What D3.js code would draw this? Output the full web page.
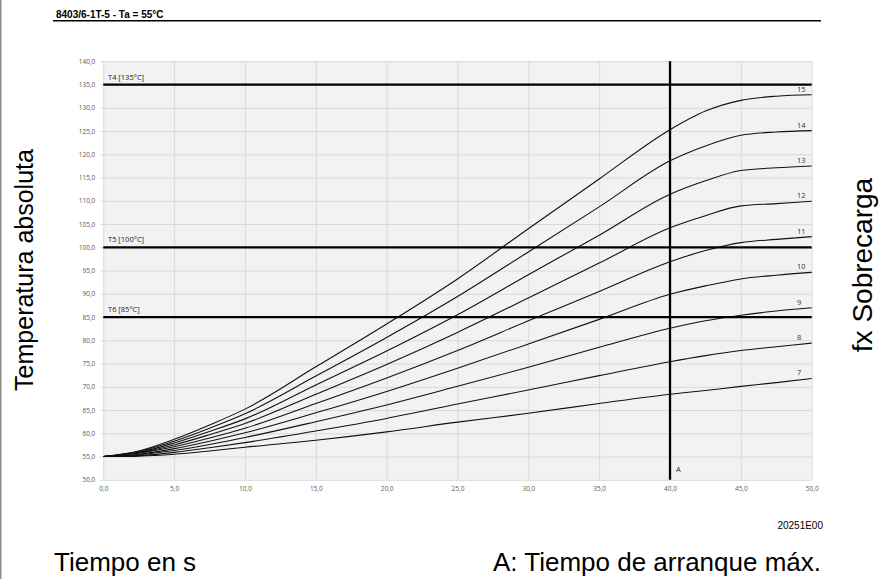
<!DOCTYPE html>
<html>
<head>
<meta charset="utf-8">
<script src="https://cdn.jsdelivr.net/npm/d3@7"></script>
<style>
  body { margin: 0; background: #fff; }
  svg { display: block; font-family: "Liberation Sans", Arial, sans-serif; }
</style>
</head>
<body>
<div id="chart"></div>
<script>
// time axis (s) at which the curves were read
const times = [0, 2.5, 5, 7.5, 10, 15, 20, 25, 30, 35, 40, 42.5, 45, 47.5, 50];

// absolute temperature per overload factor
const curve7  = [55, 55.1, 55.5, 56.2, 57.0, 58.5, 60.3, 62.4, 64.3, 66.4, 68.4, 69.2, 70.1, 70.9, 71.8];
const curve8  = [55, 55.2, 55.9, 56.9, 58.0, 60.5, 63.2, 66.3, 69.3, 72.4, 75.4, 76.7, 77.8, 78.6, 79.4];
const curve9  = [55, 55.4, 56.3, 57.6, 59.1, 62.5, 66.1, 70.1, 74.2, 78.5, 82.6, 84.2, 85.4, 86.3, 87.0];
const curve10 = [55, 55.5, 56.7, 58.3, 60.1, 64.4, 69.0, 74.0, 79.2, 84.5, 89.9, 91.7, 93.2, 94.0, 94.6];
const curve11 = [55, 55.7, 57.1, 59.0, 61.1, 66.4, 71.9, 77.8, 84.2, 90.5, 96.9, 99.3, 101.0, 101.7, 102.3];
const curve12 = [55, 55.8, 57.5, 59.7, 62.1, 68.4, 74.8, 81.7, 89.1, 96.6, 104.2, 106.8, 108.9, 109.4, 109.9];
const curve13 = [55, 55.9, 57.9, 60.4, 63.1, 70.4, 77.7, 85.5, 94.1, 102.6, 111.4, 114.3, 116.5, 117.1, 117.5];
const curve14 = [55, 56.1, 58.3, 61.1, 64.2, 72.3, 80.6, 89.4, 99.0, 108.7, 118.6, 121.8, 124.1, 124.8, 125.1];
const curve15 = [55, 56.2, 58.7, 61.8, 65.2, 74.3, 83.5, 93.2, 104.0, 114.7, 125.3, 129.3, 131.6, 132.5, 132.8];

const curveLabels = ["7", "8", "9", "10", "11", "12", "13", "14", "15"];
const curveValues = [curve7, curve8, curve9, curve10, curve11, curve12, curve13, curve14, curve15];

// temperature class limits
const limitValues = [135, 100, 85];
const limitLabels = ["T4 [135°C]", "T5 [100°C]", "T6 [85°C]"];

// max start-up time marker
const markerTime = 40;
const markerLabel = "A";

const xTicks = [0, 5, 10, 15, 20, 25, 30, 35, 40, 45, 50];
const yTicks = [50, 55, 60, 65, 70, 75, 80, 85, 90, 95, 100, 105, 110, 115, 120, 125, 130, 135, 140];

const width = 893, height = 579;
const plot = { left: 103.3, top: 61.3, right: 811.7, bottom: 479.8 };

const svg = d3.select("#chart").append("svg")
  .attr("width", width)
  .attr("height", height);

// thin page border on the left
svg.append("line")
  .attr("x1", 0.75).attr("x2", 0.75)
  .attr("y1", 0).attr("y2", height)
  .attr("stroke", "#8c8c8c")
  .attr("stroke-width", 1.5);

// title with rule
svg.append("text")
  .attr("x", 56)
  .attr("y", 18.3)
  .attr("font-size", "10px")
  .attr("font-weight", "bold")
  .attr("fill", "#000")
  .text("8403/6-1T-5 - Ta = 55°C");

svg.append("line")
  .attr("x1", 53).attr("x2", 821)
  .attr("y1", 20.7).attr("y2", 20.7)
  .attr("stroke", "#000")
  .attr("stroke-width", 1.4);

let x = d3.scaleLinear().domain([0, 50]).range([plot.left, plot.right]);
let y = d3.scaleLinear().domain([50, 140]).range([plot.bottom, plot.top]);

const fmt = d => d3.format(".1f")(d).replace(".", ",");

svg.append("rect")
  .attr("x", plot.left)
  .attr("y", plot.top)
  .attr("width", plot.right - plot.left)
  .attr("height", plot.bottom - plot.top)
  .attr("fill", "#f2f2f2");

// grid + tick labels
let yAxis = svg.append("g")
  .attr("transform", `translate(${plot.left},0)`)
  .call(d3.axisLeft(y).tickValues(yTicks).tickFormat(fmt)
    .tickSize(-(plot.right - plot.left)).tickPadding(8));

let xAxis = svg.append("g")
  .attr("transform", `translate(0,${plot.bottom})`)
  .call(d3.axisBottom(x).tickValues(xTicks).tickFormat(fmt)
    .tickSize(-(plot.bottom - plot.top)).tickPadding(7));

[yAxis, xAxis].forEach(function (g) {
  g.select(".domain").remove();
  g.selectAll(".tick line")
    .attr("stroke", "#d9d9d9")
    .attr("stroke-width", 1);
  g.selectAll(".tick text")
    .attr("fill", "#595959")
    .attr("font-family", "'Open Sans', sans-serif")
    .attr("font-size", "6.5px");
});

// small outer ticks on the y axis
yAxis.selectAll(".tick").append("line")
  .attr("x1", -3).attr("x2", 0)
  .attr("stroke", "#d9d9d9");

// curves
let line = d3.line()
  .x((d, i) => x(times[i]))
  .y(d => y(d))
  .curve(d3.curveMonotoneX);

svg.append("g")
  .selectAll("path")
  .data(curveValues)
  .enter().append("path")
  .attr("d", d => line(d))
  .attr("fill", "none")
  .attr("stroke", "#111")
  .attr("stroke-width", 1.1);

svg.append("g")
  .selectAll("text")
  .data(curveValues)
  .enter().append("text")
  .attr("x", 797)
  .attr("y", d => y(d[d.length - 1]) - 3)
  .attr("font-family", "'Open Sans', sans-serif")
  .attr("font-size", "7.5px")
  .attr("fill", "#333")
  .text((d, i) => curveLabels[i]);

// temperature limits
svg.append("g")
  .selectAll("line")
  .data(limitValues)
  .enter().append("line")
  .attr("x1", plot.left).attr("x2", plot.right)
  .attr("y1", d => y(d)).attr("y2", d => y(d))
  .attr("stroke", "#000")
  .attr("stroke-width", 2.3);

svg.append("g")
  .selectAll("text")
  .data(limitValues)
  .enter().append("text")
  .attr("x", 108)
  .attr("y", d => y(d) - 5)
  .attr("font-family", "'Open Sans', sans-serif")
  .attr("font-size", "7.5px")
  .attr("fill", "#222")
  .text((d, i) => limitLabels[i]);

// start-up time marker
svg.append("line")
  .attr("x1", x(markerTime)).attr("x2", x(markerTime))
  .attr("y1", plot.top).attr("y2", plot.bottom)
  .attr("stroke", "#000")
  .attr("stroke-width", 2.3);

svg.append("text")
  .attr("x", x(markerTime) + 6)
  .attr("y", plot.bottom - 8)
  .attr("font-family", "'Open Sans', sans-serif")
  .attr("font-size", "7.5px")
  .attr("fill", "#222")
  .text(markerLabel);

// outer labels
svg.append("text")
  .attr("transform", "translate(33,270) rotate(-90)")
  .attr("text-anchor", "middle")
  .attr("font-size", "25px")
  .attr("fill", "#000")
  .text("Temperatura absoluta");

svg.append("text")
  .attr("transform", "translate(872,265) rotate(-90)")
  .attr("text-anchor", "middle")
  .attr("font-size", "28px")
  .attr("fill", "#000")
  .text("fx Sobrecarga");

svg.append("text")
  .attr("x", 823)
  .attr("y", 529)
  .attr("text-anchor", "end")
  .attr("font-size", "10px")
  .attr("fill", "#000")
  .text("20251E00");

svg.append("text")
  .attr("x", 54)
  .attr("y", 571)
  .attr("font-size", "26px")
  .attr("fill", "#000")
  .text("Tiempo en s");

svg.append("text")
  .attr("x", 821)
  .attr("y", 571)
  .attr("text-anchor", "end")
  .attr("font-size", "26px")
  .attr("fill", "#000")
  .text("A: Tiempo de arranque máx.");
</script>
</body>
</html>
